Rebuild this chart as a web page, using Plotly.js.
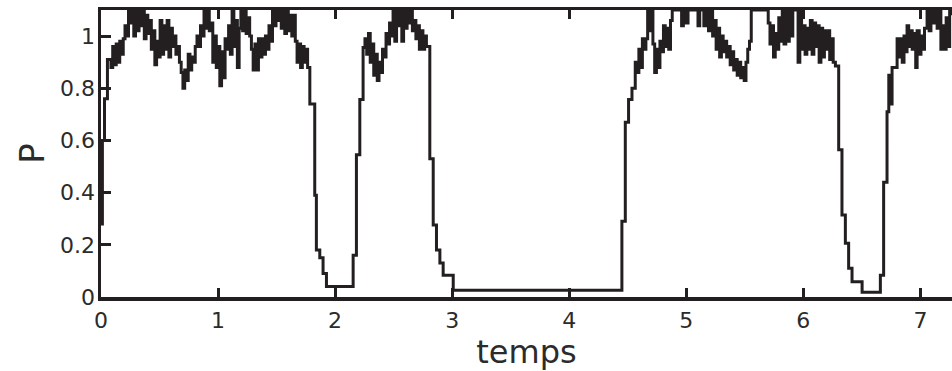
<!DOCTYPE html>
<html>
<head>
<meta charset="utf-8">
<script src="https://cdn.plot.ly/plotly-3.0.1.min.js"></script>
<style>
  html, body { margin: 0; padding: 0; background: #ffffff; }
  #chart { width: 952px; height: 371px; }
</style>
</head>
<body>
<div id="chart"></div>
<script>
// time values (temps)
const temps = [
  0.000, 0.012, 0.030, 0.055, 0.085, 0.100, 0.115, 0.130, 0.145, 0.160, 0.175, 0.190,
  0.205, 0.220, 0.235, 0.250, 0.265, 0.280, 0.295, 0.310, 0.325, 0.340, 0.355, 0.370,
  0.385, 0.400, 0.415, 0.430, 0.445, 0.460, 0.475, 0.490, 0.505, 0.520, 0.535, 0.550,
  0.565, 0.580, 0.595, 0.610, 0.625, 0.640, 0.655, 0.670, 0.685, 0.700, 0.715, 0.730,
  0.745, 0.760, 0.775, 0.790, 0.805, 0.820, 0.835, 0.850, 0.865, 0.880, 0.895, 0.910,
  0.925, 0.940, 0.955, 0.970, 0.985, 1.000, 1.015, 1.030, 1.045, 1.060, 1.075, 1.090,
  1.105, 1.120, 1.135, 1.150, 1.165, 1.180, 1.195, 1.210, 1.225, 1.240, 1.255, 1.270,
  1.285, 1.300, 1.315, 1.330, 1.345, 1.360, 1.375, 1.390, 1.405, 1.420, 1.435, 1.450,
  1.465, 1.480, 1.495, 1.510, 1.525, 1.540, 1.555, 1.570, 1.585, 1.600, 1.615, 1.630,
  1.645, 1.660, 1.675, 1.690, 1.705, 1.720, 1.735, 1.750, 1.765, 1.784, 1.826, 1.840,
  1.869, 1.897, 1.926, 2.154, 2.182, 2.211, 2.239, 2.255, 2.270, 2.285, 2.300, 2.315,
  2.330, 2.345, 2.360, 2.375, 2.390, 2.405, 2.420, 2.435, 2.450, 2.465, 2.480, 2.495,
  2.510, 2.525, 2.540, 2.555, 2.570, 2.585, 2.600, 2.615, 2.630, 2.645, 2.660, 2.675,
  2.690, 2.705, 2.720, 2.735, 2.750, 2.765, 2.780, 2.809, 2.838, 2.866, 2.895, 2.923,
  3.009, 4.450, 4.479, 4.507, 4.536, 4.564, 4.580, 4.595, 4.610, 4.625, 4.640, 4.655,
  4.670, 4.685, 4.700, 4.715, 4.730, 4.745, 4.760, 4.775, 4.790, 4.805, 4.820, 4.835,
  4.850, 4.865, 4.880, 4.960, 4.975, 5.000, 5.015, 5.100, 5.115, 5.150, 5.165, 5.190,
  5.210, 5.225, 5.240, 5.255, 5.270, 5.285, 5.300, 5.315, 5.330, 5.345, 5.360, 5.375,
  5.390, 5.405, 5.420, 5.435, 5.450, 5.465, 5.480, 5.495, 5.510, 5.525, 5.540, 5.555,
  5.700, 5.715, 5.730, 5.745, 5.760, 5.775, 5.790, 5.805, 5.820, 5.835, 5.850, 5.865,
  5.880, 5.895, 5.910, 5.955, 5.970, 5.985, 6.000, 6.015, 6.030, 6.045, 6.060, 6.075,
  6.090, 6.105, 6.120, 6.135, 6.150, 6.165, 6.180, 6.195, 6.210, 6.225, 6.240, 6.255,
  6.274, 6.302, 6.330, 6.359, 6.387, 6.416, 6.502, 6.658, 6.686, 6.715, 6.730, 6.745,
  6.758, 6.801, 6.815, 6.830, 6.845, 6.860, 6.875, 6.886, 6.900, 6.915, 6.930, 6.945,
  6.960, 6.972, 6.990, 7.005, 7.020, 7.035, 7.057, 7.075, 7.090, 7.110, 7.125, 7.143,
  7.160, 7.175, 7.190, 7.205, 7.220, 7.235, 7.250, 7.270
];

// P values
const P = [
  0.28, 0.60, 0.76, 0.91, 0.88, 0.96, 0.89, 0.97, 0.90, 0.98, 0.93, 0.99,
  1.04, 1.00, 1.10, 1.05, 1.10, 1.00, 1.10, 1.02, 1.10, 1.04, 1.10, 0.99,
  1.08, 1.01, 1.06, 0.95, 1.02, 0.89, 0.98, 0.92, 1.06, 0.93, 1.04, 0.95,
  1.06, 0.92, 1.03, 0.96, 1.00, 0.93, 0.96, 0.90, 0.86, 0.80, 0.87, 0.83,
  0.93, 0.87, 0.92, 0.90, 0.96, 1.00, 0.96, 1.04, 1.00, 1.10, 1.03, 1.10,
  1.02, 1.05, 0.90, 1.00, 0.88, 0.96, 0.81, 0.94, 0.84, 0.99, 0.95, 1.04,
  0.93, 1.10, 0.96, 1.06, 0.88, 1.03, 1.10, 1.02, 1.10, 1.01, 1.07, 1.00,
  0.95, 0.87, 0.97, 0.87, 0.99, 0.92, 0.99, 0.93, 1.00, 0.95, 1.04, 0.98,
  1.10, 1.04, 1.10, 1.06, 1.10, 1.03, 1.10, 1.01, 1.10, 1.02, 1.08, 1.00,
  1.08, 0.98, 0.90, 0.97, 0.88, 0.96, 0.90, 0.95, 0.88, 0.74, 0.39, 0.18,
  0.15, 0.09, 0.04, 0.16, 0.545, 0.757, 0.956, 0.99, 0.93, 1.01, 0.90, 0.97,
  0.85, 0.93, 0.83, 0.90, 0.86, 0.95, 0.92, 1.01, 0.97, 1.05, 1.00, 1.10,
  0.98, 1.10, 1.04, 1.10, 0.98, 1.10, 1.03, 1.10, 1.05, 1.10, 1.02, 1.06,
  0.99, 1.04, 0.95, 1.02, 0.95, 1.00, 0.96, 0.53, 0.276, 0.18, 0.13, 0.083,
  0.026, 0.29, 0.67, 0.757, 0.80, 0.90, 0.86, 0.95, 0.88, 0.99, 0.95, 0.99,
  1.10, 1.02, 1.10, 0.97, 0.86, 0.95, 0.88, 0.98, 0.94, 1.04, 0.96, 1.03,
  0.95, 1.06, 1.10, 1.04, 1.10, 1.05, 1.10, 1.04, 1.10, 1.04, 1.10, 1.02,
  1.10, 1.00, 1.06, 0.95, 1.03, 0.92, 1.00, 0.94, 0.98, 0.92, 0.96, 0.89,
  0.94, 0.87, 0.91, 0.85, 0.90, 0.84, 0.88, 0.83, 0.90, 0.95, 0.98, 1.10,
  1.05, 0.97, 1.04, 0.92, 1.01, 0.95, 1.07, 0.98, 1.10, 0.97, 1.10, 0.98,
  1.10, 1.00, 1.10, 0.90, 1.10, 0.95, 1.04, 0.93, 1.03, 0.95, 1.06, 0.93,
  1.05, 0.96, 1.04, 0.90, 1.03, 0.92, 1.02, 0.95, 1.02, 0.91, 0.99, 0.90,
  0.885, 0.564, 0.314, 0.206, 0.11, 0.058, 0.018, 0.083, 0.44, 0.71, 0.85, 0.74,
  0.88, 0.99, 0.92, 0.99, 0.90, 1.00, 0.94, 1.04, 0.96, 1.02, 0.95, 1.01,
  0.88, 1.02, 0.93, 1.00, 0.95, 1.03, 1.10, 1.02, 1.10, 1.05, 1.10, 1.03,
  1.10, 0.95, 1.04, 0.95, 1.07, 0.96, 1.10, 1.08
];

// tick labels
const xTickVals = [0, 1, 2, 3, 4, 5, 6, 7];
const xTickText = ['0', '1', '2', '3', '4', '5', '6', '7'];
const yTickVals = [0, 0.2, 0.4, 0.6, 0.8, 1];
const yTickText = ['0', '0.2', '0.4', '0.6', '0.8', '1'];

const ink = '#231f20';
const textColor = '#2b2b2b';
const fontFamily = 'DejaVu Sans, Arial, sans-serif';

const trace = {
  x: temps,
  y: P,
  type: 'scatter',
  mode: 'lines',
  line: { color: ink, width: 3, shape: 'hv' },
  hoverinfo: 'skip',
  showlegend: false
};

const layout = {
  width: 952,
  height: 371,
  margin: { l: 101, r: 0, t: 10, b: 74, pad: 0 },
  paper_bgcolor: '#ffffff',
  plot_bgcolor: '#ffffff',
  showlegend: false,
  xaxis: {
    range: [0, 7.27],
    tickmode: 'array',
    tickvals: xTickVals,
    ticktext: xTickText,
    ticks: 'inside',
    ticklen: 9,
    tickwidth: 3,
    tickcolor: ink,
    showline: true,
    linewidth: 3.5,
    linecolor: ink,
    mirror: 'ticks',
    showgrid: false,
    zeroline: false,
    ticklabelstandoff: 1,
    tickfont: { family: fontFamily, size: 22, color: textColor },
    title: { text: 'temps', standoff: 6, font: { family: fontFamily, size: 32, color: textColor } }
  },
  yaxis: {
    range: [0, 1.1],
    tickmode: 'array',
    tickvals: yTickVals,
    ticktext: yTickText,
    ticks: 'inside',
    ticklen: 10,
    tickwidth: 3,
    tickcolor: ink,
    showline: true,
    linewidth: 3.5,
    linecolor: ink,
    mirror: false,
    showgrid: false,
    zeroline: false,
    ticklabelstandoff: -2,
    tickfont: { family: fontFamily, size: 22, color: textColor },
    title: { text: 'P', standoff: 6, font: { family: fontFamily, size: 34, color: textColor } }
  }
};

Plotly.newPlot('chart', [trace], layout, { staticPlot: true, displayModeBar: false });
</script>
</body>
</html>
